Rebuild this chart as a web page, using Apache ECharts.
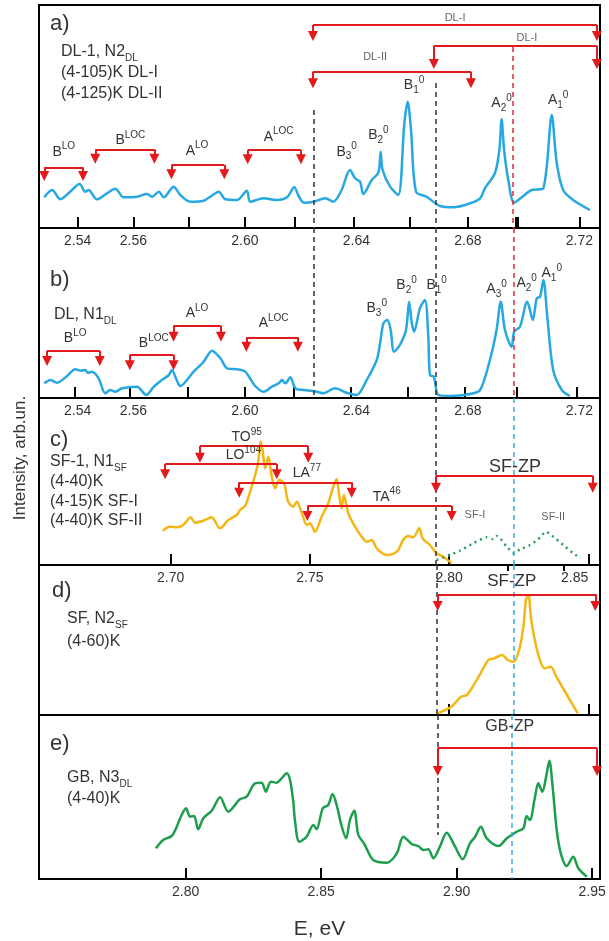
<!DOCTYPE html>
<html>
<head>
<meta charset="utf-8">
<title>PL spectra</title>
<script src="https://cdn.jsdelivr.net/npm/echarts@6/dist/echarts.min.js"></script>
<style>
html, body { margin: 0; padding: 0; background: #fff; }
#chart { width: 609px; height: 941px; }
</style>
</head>
<body>
<div id="chart"></div>
<script>
// spectra (energy in eV, intensity in arb. units)
const aE = [2.5280, 2.5308, 2.5338, 2.5373, 2.5407, 2.5427, 2.5439, 2.5469, 2.5505, 2.5535, 2.5565, 2.5613, 2.5649, 2.5667, 2.5691, 2.5709, 2.5744, 2.5768, 2.5804, 2.5852, 2.5876, 2.5906, 2.5930, 2.5972, 2.6007, 2.6019, 2.6067, 2.6115, 2.6151, 2.6177, 2.6193, 2.6211, 2.6247, 2.6288, 2.6317, 2.6347, 2.6377, 2.6395, 2.6413, 2.6425, 2.6455, 2.6479, 2.6487, 2.6494, 2.6521, 2.6550, 2.6572, 2.6584, 2.6596, 2.6614, 2.6652, 2.6700, 2.6748, 2.6808, 2.6844, 2.6861, 2.6897, 2.6913, 2.6921, 2.6930, 2.6945, 2.6966, 2.6999, 2.7029, 2.7059, 2.7071, 2.7083, 2.7101, 2.7119, 2.7142, 2.7178, 2.7238]
const aI = [30.7, 38, 28.7, 36.3, 44, 36.3, 38, 28.7, 34.7, 39.3, 30.7, 31.3, 34, 31.3, 36.3, 30.7, 41.3, 33, 26.3, 27.3, 31.3, 36.3, 28.7, 28, 37.3, 26.3, 29.7, 28, 30.7, 40.7, 32, 25.3, 26.3, 29.7, 26.3, 38, 58, 49.7, 46.3, 34, 48, 55.3, 76.3, 58, 41.3, 33, 104.7, 126.3, 98, 36.3, 31.3, 22, 20.7, 24.7, 29.7, 39.7, 54.7, 78, 108.7, 78, 48, 25.3, 32, 38, 38.7, 39.7, 61.3, 113, 64.7, 38, 28, 18]

const bE = [2.5280, 2.5302, 2.5326, 2.5362, 2.5391, 2.5409, 2.5427, 2.5436, 2.5451, 2.5475, 2.5499, 2.5517, 2.5535, 2.5559, 2.5583, 2.5613, 2.5646, 2.5673, 2.5702, 2.5727, 2.5738, 2.5754, 2.5768, 2.5816, 2.5852, 2.5882, 2.5912, 2.5936, 2.5972, 2.6001, 2.6037, 2.6067, 2.6097, 2.6121, 2.6133, 2.6145, 2.6163, 2.6181, 2.6211, 2.6259, 2.6281, 2.6323, 2.6365, 2.6401, 2.6437, 2.6473, 2.6485, 2.6497, 2.6511, 2.6523, 2.6535, 2.6556, 2.6578, 2.6589, 2.6598, 2.6607, 2.6628, 2.6646, 2.6658, 2.6664, 2.6678, 2.6694, 2.6736, 2.6808, 2.6844, 2.6879, 2.6903, 2.6918, 2.6933, 2.6957, 2.6966, 2.6987, 2.7013, 2.7033, 2.7047, 2.7059, 2.7071, 2.7085, 2.7106, 2.7137, 2.7166]
const bI = [14.7, 18, 15.3, 22, 28.7, 27.3, 28, 25.3, 26.3, 19.7, 4.7, 8, 6.3, 9.7, 10.7, 11.3, 3, 11.3, 18, 23, 28, 18.7, 12, 26.3, 36.3, 47.3, 39.7, 29.7, 28.7, 26.3, 12, 6.3, 11.3, 14.7, 18, 14.7, 20.7, 9.7, 8, 6.3, 4.7, 9.7, 5.3, 3, 18, 38, 54.7, 74.7, 78, 68, 46.3, 53, 68, 96.3, 76.3, 66.3, 89.7, 98, 61.3, 23, 21.3, 3, 2, 4, 8, 38, 68, 96.3, 68, 51.3, 66.3, 71.3, 96.3, 78, 99.7, 101.3, 118, 81.3, 28, 8, 2]

const cE = [2.6971, 2.6997, 2.7022, 2.7045, 2.7072, 2.7087, 2.7117, 2.7147, 2.7177, 2.7207, 2.7237, 2.7249, 2.7267, 2.7291, 2.7311, 2.7318, 2.7323, 2.7330, 2.7339, 2.7351, 2.7363, 2.7375, 2.7390, 2.7407, 2.7422, 2.7440, 2.7453, 2.7471, 2.7489, 2.7500, 2.7518, 2.7542, 2.7566, 2.7584, 2.7596, 2.7606, 2.7614, 2.7622, 2.7638, 2.7662, 2.7686, 2.7704, 2.7722, 2.7740, 2.7776, 2.7812, 2.7835, 2.7853, 2.7871, 2.7893, 2.7905, 2.7931, 2.7955, 2.7979, 2.8009]
const cI = [34.3, 38.3, 37.7, 40, 47.7, 42.3, 44.3, 47.7, 36.7, 45, 50, 55, 59, 78.3, 98.3, 111.7, 123.3, 115, 96.7, 108.3, 88.3, 76.7, 85, 81.7, 63.3, 58.3, 63.3, 51.7, 40, 41.7, 33.3, 48.3, 61.7, 78.3, 85.7, 68.3, 56.7, 70, 51.7, 38.3, 28.3, 23.3, 25, 16.7, 10, 13.3, 25, 29, 27.7, 36.7, 26.7, 20, 11.7, 8.3, 1.7]

const sfE = [2.7955, 2.8003, 2.8039, 2.8087, 2.8135, 2.8159, 2.8173, 2.8207, 2.8233, 2.8255, 2.8291, 2.8320, 2.8348, 2.8374, 2.8410, 2.8446, 2.8473]
const sfI = [5, 10, 14.3, 21.7, 27.7, 25.7, 29, 18.3, 11.7, 15.7, 20, 25.7, 33.3, 28.3, 20, 11.7, 6.7]

const dE = [2.7959, 2.8008, 2.8043, 2.8064, 2.8085, 2.8113, 2.8141, 2.8162, 2.8190, 2.8211, 2.8232, 2.8253, 2.8267, 2.8276, 2.8285, 2.8295, 2.8316, 2.8343, 2.8365, 2.8385, 2.8413, 2.8434, 2.8462]
const dI = [1.7, 8.3, 18.3, 20, 28.3, 41.7, 55, 56.7, 60, 55, 53.3, 66.7, 88.3, 115, 120, 95, 65, 46.7, 48.3, 38.3, 25, 15, 1.7]

const eE = [2.7890, 2.7917, 2.7948, 2.7967, 2.7985, 2.8001, 2.8016, 2.8031, 2.8046, 2.8065, 2.8096, 2.8127, 2.8157, 2.8200, 2.8225, 2.8256, 2.8280, 2.8296, 2.8314, 2.8336, 2.8354, 2.8373, 2.8385, 2.8397, 2.8403, 2.8419, 2.8446, 2.8471, 2.8483, 2.8506, 2.8526, 2.8542, 2.8557, 2.8576, 2.8592, 2.8606, 2.8622, 2.8637, 2.8658, 2.8692, 2.8742, 2.8779, 2.8803, 2.8834, 2.8858, 2.8877, 2.8895, 2.8914, 2.8938, 2.8963, 2.8994, 2.9022, 2.9049, 2.9068, 2.9089, 2.9111, 2.9154, 2.9185, 2.9221, 2.9246, 2.9258, 2.9270, 2.9289, 2.9301, 2.9316, 2.9330, 2.9342, 2.9354, 2.9369, 2.9384, 2.9406, 2.9430, 2.9449, 2.9480]
const eI = [30.7, 39, 43, 52.3, 64, 70.7, 62.3, 63, 49.7, 60.7, 68.3, 81.7, 67.3, 79.7, 82.3, 95.7, 96.3, 87.3, 97.3, 96.3, 100.7, 105.7, 99, 77.3, 59, 37.3, 42.3, 54, 49.7, 70.7, 74, 85, 74, 52.3, 40.7, 59, 68.3, 44, 35.7, 19, 16.3, 25.7, 42.3, 35, 33, 29, 29.7, 20.7, 32.3, 46.3, 32.3, 19.7, 35.7, 42.3, 52.3, 40.7, 33, 40.7, 47.3, 50.7, 63, 59, 82.3, 95.7, 87.3, 102.3, 118.3, 92.3, 49, 25.7, 13, 22.3, 10.7, 2.3]

// tick marks and tick labels
const abTicksA = [2.54, 2.56, 2.58, 2.60, 2.618, 2.639, 2.659, 2.68, 2.697, 2.698, 2.72]
const abTicksB = [2.539, 2.5585, 2.5795, 2.60, 2.6175, 2.638, 2.6585, 2.679, 2.6975, 2.719]
const abLabels = [2.54, 2.56, 2.60, 2.64, 2.68, 2.72]
const cTicks = [2.70, 2.75, 2.80, 2.85]
const dTicksMajor = [2.80, 2.85]
const dTicksMinor = [2.8209, 2.8413]
const eTicks = [2.80, 2.85, 2.90, 2.95]

// red brackets: [E from, E to, bar level, arrow tip level]
const aBrackets = [[2.6244, 2.7263, 203, 192], [2.6678, 2.7263, 182.3, 164], [2.6244, 2.6811, 156.3, 144.7],
  [2.5280, 2.5419, 60.7, 52], [2.5463, 2.5675, 78.7, 69.3], [2.5736, 2.5926, 63, 53.7], [2.6010, 2.6201, 78, 68.7]]
const bBrackets = [[2.5290, 2.5479, 47.3, 37], [2.5587, 2.5744, 43, 32.7], [2.5744, 2.5914, 72.3, 61.3], [2.6005, 2.6190, 60.7, 51.3]]
const cBrackets = [[2.7105, 2.7494, 119, 107.3], [2.6980, 2.7381, 101, 90.7], [2.7246, 2.7650, 82.7, 72.3],
  [2.7491, 2.8009, 59, 49], [2.7953, 2.8516, 89.3, 77.3]]
const dBrackets = [[2.7959, 2.8525, 120.7, 109]]
const eBrackets = [[2.8930, 2.9518, 131, 108]]

// vertical guides: [E, top, bottom, kind]
const aGuides = [[2.6248, 118, 0, 'k'], [2.6686, 145, 0, 'k'], [2.6960, 181, 0, 'r']]
const bGuides = [[2.6248, 170, 0, 'k'], [2.6686, 170, 0, 'k'], [2.6966, 170, 0, 'r']]
const cGuides = [[2.7953, 167, 0, 'k'], [2.8233, 167, 0, 'c']]
const dGuides = [[2.7955, 150, 0, 'k'], [2.8232, 150, 0, 'c']]
const eGuides = [[2.8930, 164, 44, 'k'], [2.9204, 164, 0, 'c']]

// peak / band labels: [E, level, text]
const aTags = [[2.5350, 76.3, 'B{sup|LO}'], [2.5589, 88, 'B{sup|LOC}'], [2.5828, 77.3, 'A{sup|LO}'], [2.6121, 91.3, 'A{sup|LOC}'],
  [2.6365, 76.3, 'B{sub|3}{sup|0}'], [2.6479, 93, 'B{sub|2}{sup|0}'], [2.6607, 143, 'B{sub|1}{sup|0}'],
  [2.6921, 124.7, 'A{sub|2}{sup|0}'], [2.7124, 128, 'A{sub|1}{sup|0}']]
const aNotes = [[2.6754, 210, 'DL-I'], [2.7012, 190, 'DL-I'], [2.6467, 171, 'DL-II']]
const bTags = [[2.5391, 59.7, 'B{sup|LO}'], [2.5673, 54.7, 'B{sup|LOC}'], [2.5828, 84.7, 'A{sup|LO}'], [2.6103, 74.7, 'A{sup|LOC}'],
  [2.6473, 89.7, 'B{sub|3}{sup|0}'], [2.6580, 113, 'B{sub|2}{sup|0}'], [2.6688, 113, 'B{sub|1}{sup|0}'],
  [2.6903, 108.7, 'A{sub|3}{sup|0}'], [2.7011, 114.7, 'A{sub|2}{sup|0}'], [2.7101, 124.7, 'A{sub|1}{sup|0}']]
const cTags = [[2.7273, 127.7, 'TO{sup|95}'], [2.7261, 110, 'LO{sup|104}'], [2.7489, 91.7, 'LA{sup|77}'], [2.7776, 68.3, 'TA{sup|46}']]
const cNotes = [[2.8093, 50, 'SF-I'], [2.8374, 47.7, 'SF-II']]
const cZp = [[2.8237, 97.7, 'SF-ZP']]
const dZp = [[2.8225, 133.3, 'SF-ZP']]
const eZp = [[2.9196, 152.3, 'GB-ZP']]

const FONT = '"Liberation Sans", Arial, sans-serif'
const INK = '#333'
const RED = '#e3191c'
const BLUE = '#27a8e0'
const YELLOW = '#f4b614'
const GREEN = '#1d9e4c'
const GUIDE = { k: '#333', r: '#e0283a', c: '#3aa8dd' }

const labelRich = {
  sup: { fontSize: 10, color: INK, fontFamily: FONT, verticalAlign: 'top', lineHeight: 20 },
  sub: { fontSize: 10, color: INK, fontFamily: FONT, verticalAlign: 'bottom', lineHeight: 20 }
}

function pairs (xs, ys) {
  return xs.map((x, i) => [x, ys[i]])
}

function tags (list, fontSize, color) {
  return list.map(([e, h, t]) => ({
    coord: [e, h],
    label: { formatter: t, fontSize: fontSize, color: color }
  }))
}

function markPoints (items) {
  return {
    silent: true,
    symbol: 'circle',
    symbolSize: 1,
    itemStyle: { color: 'rgba(0,0,0,0)' },
    label: { show: true, position: 'inside', color: INK, fontSize: 14, fontFamily: FONT, lineHeight: 20, rich: labelRich },
    data: items
  }
}

function guides (list) {
  return {
    silent: true,
    symbol: 'none',
    label: { show: false },
    data: list.map(([e, top, bottom, kind]) => {
      const ls = { color: GUIDE[kind], width: 1.5, type: [5, 4] }
      return [{ coord: [e, top], lineStyle: ls }, { coord: [e, bottom], lineStyle: ls }]
    })
  }
}

function brackets (list) {
  const out = []
  list.forEach(([e1, e2, top, tip]) => {
    out.push([{ coord: [e1, top], symbol: 'none' }, { coord: [e2, top], symbol: 'none' }])
    out.push([{ coord: [e1, top], symbol: 'none' }, { coord: [e1, tip] }])
    out.push([{ coord: [e2, top], symbol: 'none' }, { coord: [e2, tip] }])
  })
  return {
    silent: true,
    symbol: ['none', 'triangle'],
    symbolSize: 10,
    label: { show: false },
    lineStyle: { color: RED, width: 2, type: 'solid' },
    data: out
  }
}

function curve (name, xi, yi, data, color, extra) {
  return Object.assign({
    name: name,
    type: 'line',
    xAxisIndex: xi,
    yAxisIndex: yi,
    data: data,
    showSymbol: false,
    smooth: 0.3,
    lineStyle: { color: color, width: 2.5 },
    z: 3
  }, extra)
}

function bracketSeries (xi, yi, list) {
  return { type: 'line', xAxisIndex: xi, yAxisIndex: yi, data: [], markLine: brackets(list), z: 4 }
}

function xAxis (grid, min, max, ticks, labels, extra, lastRight) {
  return Object.assign({
    type: 'value',
    gridIndex: grid,
    min: min,
    max: max,
    axisLine: { show: true, onZero: false, lineStyle: { color: '#000', width: 2 } },
    axisTick: { show: true, inside: true, length: 11, lineStyle: { color: '#000', width: 2 }, customValues: ticks },
    axisLabel: {
      show: labels.length > 0,
      customValues: labels,
      color: INK,
      fontSize: 14,
      fontFamily: FONT,
      margin: 6,
      alignMaxLabel: lastRight ? 'right' : 'center',
      formatter: v => v.toFixed(2)
    },
    splitLine: { show: false }
  }, extra)
}

function yAxis (grid, max) {
  return { type: 'value', gridIndex: grid, min: 0, max: max, show: false }
}

function gText (x, y, text, size, extra) {
  const sm = Math.round(size * 0.65)
  return Object.assign({
    type: 'text',
    x: x,
    y: y,
    silent: true,
    style: {
      text: text,
      fill: INK,
      fontSize: size,
      fontFamily: FONT,
      align: 'left',
      verticalAlign: 'middle',
      lineHeight: size + 6,
      rich: {
        sub: { fill: INK, fontSize: sm, fontFamily: FONT, verticalAlign: 'bottom', lineHeight: size + 6 },
        sup: { fill: INK, fontSize: sm, fontFamily: FONT, verticalAlign: 'top', lineHeight: size + 6 }
      }
    }
  }, extra)
}

const grids = [
  { left: 39, width: 561, top: 5, height: 223 },
  { left: 39, width: 561, top: 228, height: 170 },
  { left: 39, width: 561, top: 398, height: 167 },
  { left: 39, width: 561, top: 565, height: 150 },
  { left: 39, width: 561, top: 715, height: 164 }
].map(g => Object.assign({ show: true, borderColor: '#000', borderWidth: 2, backgroundColor: 'transparent' }, g))

const chart = echarts.init(document.getElementById('chart'), null, { renderer: 'canvas' })

chart.setOption({
  animation: false,
  backgroundColor: '#fff',
  grid: grids,
  xAxis: [
    xAxis(0, 2.52611, 2.72741, abTicksA, abLabels),
    xAxis(1, 2.52611, 2.72741, abTicksB, abLabels),
    xAxis(2, 2.65270, 2.85420, cTicks, cTicks, {}, true),
    xAxis(3, 2.65270, 2.85420, dTicksMajor, []),
    xAxis(3, 2.65270, 2.85420, dTicksMinor, [], { axisTick: { show: true, inside: true, length: 6, lineStyle: { color: '#000', width: 2 }, customValues: dTicksMinor } }),
    xAxis(4, 2.74587, 2.95288, eTicks, eTicks, {
      name: 'E, eV',
      nameLocation: 'middle',
      nameGap: 40,
      nameTextStyle: { fontSize: 21, color: INK, fontFamily: FONT }
    })
  ],
  yAxis: [yAxis(0, 223), yAxis(1, 170), yAxis(2, 167), yAxis(3, 150), yAxis(4, 164)],
  series: [
    curve('a', 0, 0, pairs(aE, aI), BLUE, {
      markLine: guides(aGuides),
      markPoint: markPoints(tags(aTags, 14, INK).concat(tags(aNotes, 11, '#666')))
    }),
    bracketSeries(0, 0, aBrackets),
    curve('b', 1, 1, pairs(bE, bI), BLUE, {
      markLine: guides(bGuides),
      markPoint: markPoints(tags(bTags, 14, INK))
    }),
    bracketSeries(1, 1, bBrackets),
    curve('c', 2, 2, pairs(cE, cI), YELLOW, {
      markLine: guides(cGuides),
      markPoint: markPoints(tags(cTags, 14, INK).concat(tags(cNotes, 11, '#666'), tags(cZp, 18, INK)))
    }),
    curve('sf', 2, 2, pairs(sfE, sfI), '#2e9e5e', { smooth: 0.2, lineStyle: { color: '#2e9e5e', width: 2.5, type: [2, 4] } }),
    bracketSeries(2, 2, cBrackets),
    curve('d', 3, 3, pairs(dE, dI), YELLOW, {
      markLine: guides(dGuides),
      markPoint: markPoints(tags(dZp, 17, INK))
    }),
    bracketSeries(3, 3, dBrackets),
    curve('e', 5, 4, pairs(eE, eI), GREEN, {
      markLine: guides(eGuides),
      markPoint: markPoints(tags(eZp, 16, INK))
    }),
    bracketSeries(5, 4, eBrackets)
  ],
  graphic: [
    gText(50, 24, 'a)', 22),
    gText(61, 52, 'DL-1, N2{sub|DL}', 16),
    gText(61, 73, '(4-105)K DL-I', 16),
    gText(61, 94, '(4-125)K DL-II', 16),
    gText(50, 280, 'b)', 22),
    gText(54, 315, 'DL, N1{sub|DL}', 16),
    gText(50, 440, 'c)', 22),
    gText(50, 462, 'SF-1, N1{sub|SF}', 16),
    gText(50, 482, '(4-40)K', 16),
    gText(50, 502, '(4-15)K SF-I', 16),
    gText(50, 521, '(4-40)K SF-II', 16),
    gText(52, 591, 'd)', 22),
    gText(67, 619, 'SF, N2{sub|SF}', 16),
    gText(67, 642, '(4-60)K', 16),
    gText(50, 744, 'e)', 22),
    gText(67, 778, 'GB, N3{sub|DL}', 16),
    gText(67, 799, '(4-40)K', 16),
    gText(20, 458, 'Intensity, arb.un.', 17, { rotation: Math.PI / 2, style: { text: 'Intensity, arb.un.', fill: INK, fontSize: 17, fontFamily: FONT, align: 'center', verticalAlign: 'middle' } })
  ]
})
</script>
</body>
</html>
